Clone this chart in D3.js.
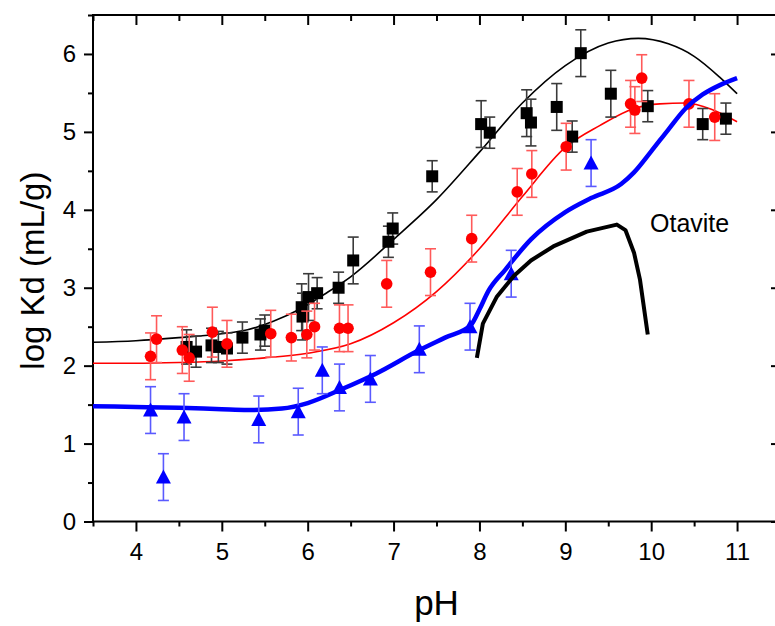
<!DOCTYPE html>
<html lang="en">
<head>
<meta charset="utf-8">
<title>log Kd vs pH</title>
<script src="https://d3js.org/d3.v7.min.js"></script>
<style>
    body { margin: 0; background: #fff; }
    svg { display: block; font-family: Arial, "Liberation Sans", sans-serif; }
    .axis text { font-size: 24px; fill: #000; }
    .axis line { stroke: #000; stroke-width: 2px; }
    .axis path { display: none; }
</style>
</head>
<body>
<svg id="chart" width="775" height="626"></svg>
<script>
// Black squares: pH, log Kd, error
const sqPH   = [4.59, 4.70, 4.88, 4.96, 5.06, 5.24, 5.45, 5.50, 5.93, 5.94, 6.01, 6.11, 6.36, 6.53, 6.94, 6.99, 7.45, 8.02, 8.12, 8.55, 8.60, 8.90, 9.08, 9.18, 9.53, 9.96, 10.60, 10.87];
const sqKd   = [2.24, 2.18, 2.26, 2.24, 2.22, 2.36, 2.40, 2.45, 2.75, 2.63, 2.88, 2.93, 3.00, 3.35, 3.59, 3.76, 4.43, 5.10, 4.99, 5.24, 5.12, 5.32, 4.94, 6.01, 5.49, 5.33, 5.10, 5.17];
const sqErr  = [0.22, 0.20, 0.22, 0.20, 0.20, 0.20, 0.20, 0.20, 0.30, 0.30, 0.30, 0.20, 0.20, 0.30, 0.20, 0.20, 0.20, 0.30, 0.20, 0.30, 0.30, 0.30, 0.20, 0.30, 0.30, 0.20, 0.20, 0.20];

// Red circles
const ciPH   = [4.17, 4.24, 4.54, 4.62, 4.89, 5.06, 5.57, 5.81, 5.99, 6.08, 6.37, 6.47, 6.92, 7.43, 7.91, 8.44, 8.61, 9.01, 9.76, 9.81, 9.89, 10.44, 10.74];
const ciKd   = [2.12, 2.34, 2.20, 2.10, 2.43, 2.28, 2.41, 2.36, 2.40, 2.50, 2.48, 2.48, 3.05, 3.20, 3.63, 4.23, 4.46, 4.81, 5.36, 5.28, 5.69, 5.36, 5.19];
const ciErr  = [0.30, 0.30, 0.30, 0.30, 0.32, 0.30, 0.30, 0.30, 0.30, 0.30, 0.30, 0.30, 0.30, 0.30, 0.30, 0.30, 0.30, 0.30, 0.30, 0.30, 0.30, 0.30, 0.30];

// Blue triangles
const trPH   = [4.17, 4.32, 4.56, 5.43, 5.89, 6.17, 6.37, 6.73, 7.30, 7.89, 8.37, 9.30];
const trKd   = [1.43, 0.57, 1.34, 1.31, 1.41, 1.94, 1.72, 1.83, 2.21, 2.50, 3.18, 4.60];
const trErr  = [0.30, 0.30, 0.30, 0.30, 0.30, 0.30, 0.30, 0.30, 0.30, 0.30, 0.30, 0.30];

// Model curves
const blackFitPH = [3.5, 4.0, 4.5, 5.0, 5.3, 5.6, 5.9, 6.2, 6.5, 7.0, 7.5, 8.0, 8.5, 9.0, 9.5, 9.85, 10.2, 10.5, 10.8, 11.0];
const blackFitKd = [2.30, 2.32, 2.36, 2.41, 2.46, 2.57, 2.72, 2.92, 3.14, 3.62, 4.13, 4.74, 5.37, 5.85, 6.14, 6.20, 6.13, 5.97, 5.70, 5.49];
const redFitPH = [3.5, 4.0, 4.5, 5.0, 5.5, 6.0, 6.5, 7.0, 7.5, 8.0, 8.5, 9.0, 9.4, 9.8, 10.1, 10.4, 10.7, 11.0];
const redFitKd = [2.03, 2.03, 2.04, 2.06, 2.10, 2.16, 2.28, 2.55, 2.95, 3.50, 4.17, 4.80, 5.08, 5.30, 5.36, 5.37, 5.29, 5.13];
const blueFitPH = [3.5, 4.0, 4.5, 5.0, 5.3, 5.7, 6.0, 6.4, 6.8, 7.3, 7.6, 7.9, 8.0, 8.1, 8.3, 8.6, 9.0, 9.3, 9.65, 9.8, 10.0, 10.2, 10.4, 10.6, 10.8, 11.0];
const blueFitKd = [1.48, 1.47, 1.46, 1.44, 1.43, 1.45, 1.52, 1.70, 1.90, 2.20, 2.36, 2.52, 2.72, 2.95, 3.23, 3.62, 3.97, 4.15, 4.33, 4.48, 4.75, 5.03, 5.30, 5.48, 5.60, 5.69];
const otavitePH = [7.97, 8.04, 8.20, 8.40, 8.60, 8.86, 9.25, 9.60, 9.70, 9.80, 9.87, 9.96];
const otaviteKd = [2.10, 2.54, 2.88, 3.15, 3.35, 3.53, 3.72, 3.81, 3.74, 3.45, 3.10, 2.40];

const xMajor = [4, 5, 6, 7, 8, 9, 10, 11];
const xMinor = [3.5, 4.5, 5.5, 6.5, 7.5, 8.5, 9.5, 10.5, 11.5];
const yMajor = [0, 1, 2, 3, 4, 5, 6];
const yMinor = [0.5, 1.5, 2.5, 3.5, 4.5, 5.5, 6.5];

const plotL = 93, plotR = 780, plotT = 15, plotB = 521.5;

const svg = d3.select("#chart");

const x = d3.scaleLinear().domain([3.5, 11.5]).range([plotL, plotR]);
const y = d3.scaleLinear().domain([0, 6.5]).range([plotB, plotT]);

const zip = (xs, ys) => xs.map((v, i) => [v, ys[i]]);
const pts = (xs, ys, es) => xs.map((v, i) => ({ x: v, y: ys[i], e: es[i] }));

// axes
function addAxis(axis, transform) {
    svg.append("g").attr("class", "axis").attr("transform", transform).call(axis);
}
addAxis(d3.axisBottom(x).tickValues(xMajor).tickSize(10).tickPadding(11).tickFormat(d3.format("d")), `translate(0,${plotB})`);
addAxis(d3.axisBottom(x).tickValues(xMinor).tickSize(5).tickFormat(""), `translate(0,${plotB})`);
addAxis(d3.axisTop(x).tickValues(xMajor).tickSize(-10).tickFormat(""), `translate(0,${plotT})`);
addAxis(d3.axisTop(x).tickValues(xMinor).tickSize(-6).tickFormat(""), `translate(0,${plotT})`);
addAxis(d3.axisLeft(y).tickValues(yMajor).tickSize(9).tickPadding(8).tickFormat(d3.format("d")), `translate(${plotL},0)`);
addAxis(d3.axisLeft(y).tickValues(yMinor).tickSize(5).tickFormat(""), `translate(${plotL},0)`);
addAxis(d3.axisRight(y).tickValues(yMajor).tickSize(-9).tickFormat(""), `translate(${plotR},0)`);
addAxis(d3.axisRight(y).tickValues(yMinor).tickSize(-5).tickFormat(""), `translate(${plotR},0)`);

svg.append("rect")
    .attr("x", plotL).attr("y", plotT)
    .attr("width", plotR - plotL).attr("height", plotB - plotT)
    .attr("fill", "none").attr("stroke", "#000").attr("stroke-width", 2);

// curves
const smooth = d3.line().x(d => x(d[0])).y(d => y(d[1])).curve(d3.curveMonotoneX);
const straight = d3.line().x(d => x(d[0])).y(d => y(d[1]));

svg.append("path").attr("d", smooth(zip(blackFitPH, blackFitKd)))
    .attr("fill", "none").attr("stroke", "#000").attr("stroke-width", 1.6);
svg.append("path").attr("d", smooth(zip(redFitPH, redFitKd)))
    .attr("fill", "none").attr("stroke", "#ff0000").attr("stroke-width", 1.6);

// error bars
function errorBars(data, color) {
    const g = svg.append("g").attr("stroke", color).attr("stroke-width", 1.6).attr("fill", "none");
    data.forEach(d => {
        const cx = x(d.x), y0 = y(d.y - d.e), y1 = y(d.y + d.e);
        g.append("line").attr("x1", cx).attr("x2", cx).attr("y1", y0).attr("y2", y1);
        g.append("line").attr("x1", cx - 5.5).attr("x2", cx + 5.5).attr("y1", y0).attr("y2", y0);
        g.append("line").attr("x1", cx - 5.5).attr("x2", cx + 5.5).attr("y1", y1).attr("y2", y1);
    });
}

const squares = pts(sqPH, sqKd, sqErr);
const circles = pts(ciPH, ciKd, ciErr);
const triangles = pts(trPH, trKd, trErr);

errorBars(squares, "#3a3a3a");
svg.append("g").selectAll("rect").data(squares).enter().append("rect")
    .attr("x", d => x(d.x) - 6).attr("y", d => y(d.y) - 6)
    .attr("width", 12).attr("height", 12).attr("fill", "#000");

errorBars(circles, "#ff5a5a");
svg.append("g").selectAll("circle").data(circles).enter().append("circle")
    .attr("cx", d => x(d.x)).attr("cy", d => y(d.y)).attr("r", 5.8).attr("fill", "#ff0000");

// blue model line and triangles
svg.append("path").attr("d", smooth(zip(blueFitPH, blueFitKd)))
    .attr("fill", "none").attr("stroke", "#0000ff").attr("stroke-width", 4.5)
    .attr("stroke-linejoin", "round");

errorBars(triangles, "#5a5aff");
svg.append("g").selectAll("path").data(triangles).enter().append("path")
    .attr("d", d => {
        const cx = x(d.x), cy = y(d.y);
        return `M${cx},${cy - 7.5}L${cx + 7.5},${cy + 6.5}L${cx - 7.5},${cy + 6.5}Z`;
    })
    .attr("fill", "#0000ff");

// otavite solubility curve
svg.append("path").attr("d", straight(zip(otavitePH, otaviteKd)))
    .attr("fill", "none").attr("stroke", "#000").attr("stroke-width", 4)
    .attr("stroke-linejoin", "round");

svg.append("text").attr("x", 650).attr("y", 232)
    .attr("font-size", 25).text("Otavite");

// axis titles
svg.append("text")
    .attr("x", x(7.5)).attr("y", 615)
    .attr("text-anchor", "middle").attr("font-size", 35).text("pH");

svg.append("text")
    .attr("transform", `translate(44,${y(3.22)}) rotate(-90)`)
    .attr("text-anchor", "middle").attr("font-size", 33).text("log Kd (mL/g)");
</script>
</body>
</html>
